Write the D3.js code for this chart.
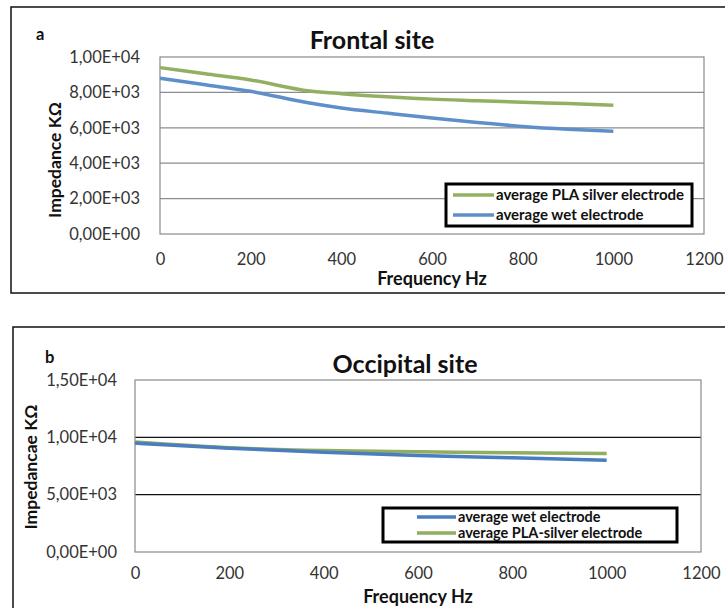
<!DOCTYPE html>
<html>
<head>
<meta charset="utf-8">
<script src="https://cdn.jsdelivr.net/npm/d3@7"></script>
<style>
  body { margin: 0; background: #fff; }
  svg { display: block; font-family: Lato, "Open Sans", sans-serif; }
</style>
</head>
<body>
<div id="chart"></div>
<script>
// frequency (Hz) and impedance (KOhm)
const freqFrontal = [0, 100, 200, 330, 400, 500, 600, 700, 800, 900, 1000];
const plaFrontal = [9400, 9050, 8700, 8080, 7930, 7760, 7620, 7530, 7440, 7370, 7280];
const wetFrontal = [8800, 8430, 8060, 7400, 7120, 6830, 6550, 6300, 6080, 5920, 5800];

const freqOccipital = [0, 200, 400, 600, 800, 1000];
const wetOccipital = [9500, 9050, 8700, 8420, 8220, 8000];
const plaOccipital = [9600, 9100, 8850, 8750, 8650, 8600];

const xTicks = [0, 200, 400, 600, 800, 1000, 1200];
const yTicksFrontal = [0, 2000, 4000, 6000, 8000, 10000];
const yTicksOccipital = [0, 5000, 10000, 15000];

const width = 725;
const height = 608;

// 1,00E+04 style labels (comma decimal, like the Excel export)
function sciLabel(v) {
  if (v === 0) return "0,00E+00";
  const exp = Math.floor(Math.log10(v));
  const mant = (v / Math.pow(10, exp)).toFixed(2).replace(".", ",");
  return `${mant}E+${String(exp).padStart(2, "0")}`;
}

const svg = d3.select("#chart").append("svg")
  .attr("width", width)
  .attr("height", height);

function drawPanel(cfg) {
  const g = svg.append("g");

  // outer frame of the panel
  g.append("rect")
    .attr("x", cfg.frame[0])
    .attr("y", cfg.frame[1])
    .attr("width", cfg.frame[2])
    .attr("height", cfg.frame[3])
    .attr("fill", "none")
    .attr("stroke", "#111")
    .attr("stroke-width", 1.5);

  const x = d3.scaleLinear().domain([0, 1200]).range([cfg.left, cfg.right]);
  const y = d3.scaleLinear().domain([0, cfg.yMax]).range([cfg.bottom, cfg.top]);

  // gridlines
  g.append("g")
    .selectAll("line")
    .data(cfg.yTicks.filter(d => d > 0 && d < cfg.yMax))
    .join("line")
    .attr("x1", cfg.left)
    .attr("x2", cfg.right)
    .attr("y1", d => y(d))
    .attr("y2", d => y(d))
    .attr("stroke", cfg.gridColor)
    .attr("stroke-width", 1.2);

  // plot area border
  g.append("rect")
    .attr("x", cfg.left)
    .attr("y", cfg.top)
    .attr("width", cfg.right - cfg.left)
    .attr("height", cfg.bottom - cfg.top)
    .attr("fill", "none")
    .attr("stroke", "#8a8a8a")
    .attr("stroke-width", 1.2);

  // y axis labels
  const yAxis = g.append("g")
    .attr("transform", `translate(${cfg.left},0)`)
    .call(d3.axisLeft(y).tickValues(cfg.yTicks).tickFormat(sciLabel).tickSize(0).tickPadding(cfg.yPad));
  yAxis.select(".domain").remove();
  yAxis.selectAll("text")
    .style("font-size", "16.5px")
    .style("font-family", "Lato, sans-serif")
    .attr("fill", "#333");

  // x axis labels
  const xAxis = g.append("g")
    .attr("transform", `translate(0,${cfg.bottom})`)
    .call(d3.axisBottom(x).tickValues(xTicks).tickFormat(d3.format("d")).tickSize(0).tickPadding(cfg.xPad));
  xAxis.select(".domain").remove();
  xAxis.selectAll("text")
    .style("font-size", "16.5px")
    .style("font-family", "Lato, sans-serif")
    .attr("fill", "#333");

  const line = d3.line()
    .x(d => x(d[0]))
    .y(d => y(d[1]))
    .curve(d3.curveMonotoneX);

  cfg.series.forEach(s => {
    g.append("path")
      .datum(cfg.freq.map((f, i) => [f, s.values[i]]))
      .attr("fill", "none")
      .attr("stroke", s.color)
      .attr("stroke-width", 3.5)
      .attr("stroke-linecap", "butt")
      .attr("d", line);
  });

  // titles
  g.append("text")
    .attr("x", cfg.titleX)
    .attr("y", cfg.titleY)
    .attr("text-anchor", "middle")
    .style("font-size", "25px")
    .style("font-weight", "bold")
    .attr("fill", "#111")
    .text(cfg.title);

  g.append("text")
    .attr("x", cfg.letter[0])
    .attr("y", cfg.letter[1])
    .style("font-size", "16.5px")
    .style("font-weight", "bold")
    .attr("fill", "#111")
    .text(cfg.letter[2]);

  g.append("text")
    .attr("x", (cfg.left + cfg.right) / 2)
    .attr("y", cfg.xTitleY)
    .attr("text-anchor", "middle")
    .style("font-size", "18px")
    .style("font-weight", "bold")
    .attr("fill", "#111")
    .text("Frequency Hz");

  g.append("text")
    .attr("transform", `translate(${cfg.yTitle[0]},${cfg.yTitle[1]}) rotate(-90)`)
    .attr("text-anchor", "middle")
    .attr("dy", "0.35em")
    .style("font-size", "17.5px")
    .style("font-weight", "bold")
    .attr("fill", "#111")
    .text(cfg.yTitleText);

  // legend
  const lg = g.append("g");
  const [lx, ly, lw, lh] = cfg.legendBox;
  lg.append("rect")
    .attr("x", lx)
    .attr("y", ly)
    .attr("width", lw)
    .attr("height", lh)
    .attr("fill", "#fff")
    .attr("stroke", "#000")
    .attr("stroke-width", 3);

  cfg.legendOrder.forEach((s, i) => {
    const yy = cfg.legendRows[i];
    lg.append("line")
      .attr("x1", cfg.legendLine[0])
      .attr("x2", cfg.legendLine[1])
      .attr("y1", yy)
      .attr("y2", yy)
      .attr("stroke", s.color)
      .attr("stroke-width", 3.5);
    lg.append("text")
      .attr("x", cfg.legendLine[1] + 2)
      .attr("y", yy)
      .attr("dy", "0.35em")
      .style("font-size", cfg.legendFont + "px")
      .style("font-weight", "bold")
      .attr("fill", "#111")
      .text(s.name);
  });
}

const greenA = "#93b062";
const blueA = "#5e8fca";
const greenB = "#90ad60";
const blueB = "#4a7dbf";

const frontalPla = { name: "average PLA silver electrode", values: plaFrontal, color: greenA };
const frontalWet = { name: "average wet electrode", values: wetFrontal, color: blueA };

drawPanel({
  frame: [11, 7, 730, 286],
  left: 160, right: 704, top: 57, bottom: 234,
  yMax: 10000, yTicks: yTicksFrontal,
  gridColor: "#8c8c8c",
  yPad: 20, xPad: 19,
  freq: freqFrontal,
  series: [frontalPla, frontalWet],
  title: "Frontal site", titleX: 372, titleY: 49,
  letter: [36, 40, "a"],
  xTitleY: 285,
  yTitle: [55, 160], yTitleText: "Impedance KΩ",
  legendBox: [446, 184, 246, 42],
  legendLine: [453, 494],
  legendRows: [195, 215],
  legendFont: 15,
  legendOrder: [frontalPla, frontalWet]
});

const occWet = { name: "average wet electrode", values: wetOccipital, color: blueB };
const occPla = { name: "average PLA-silver electrode", values: plaOccipital, color: greenB };

drawPanel({
  frame: [13, 327, 730, 300],
  left: 135, right: 701, top: 380, bottom: 552,
  yMax: 15000, yTicks: yTicksOccipital,
  gridColor: "#111",
  yPad: 18, xPad: 15,
  freq: freqOccipital,
  series: [occPla, occWet],
  title: "Occipital site", titleX: 405, titleY: 373,
  letter: [45, 363, "b"],
  xTitleY: 603,
  yTitle: [31, 467], yTitleText: "Impedancae KΩ",
  legendBox: [383, 508, 294, 34],
  legendLine: [417, 456],
  legendRows: [517, 533],
  legendFont: 14.5,
  legendOrder: [occWet, occPla]
});
</script>
</body>
</html>
